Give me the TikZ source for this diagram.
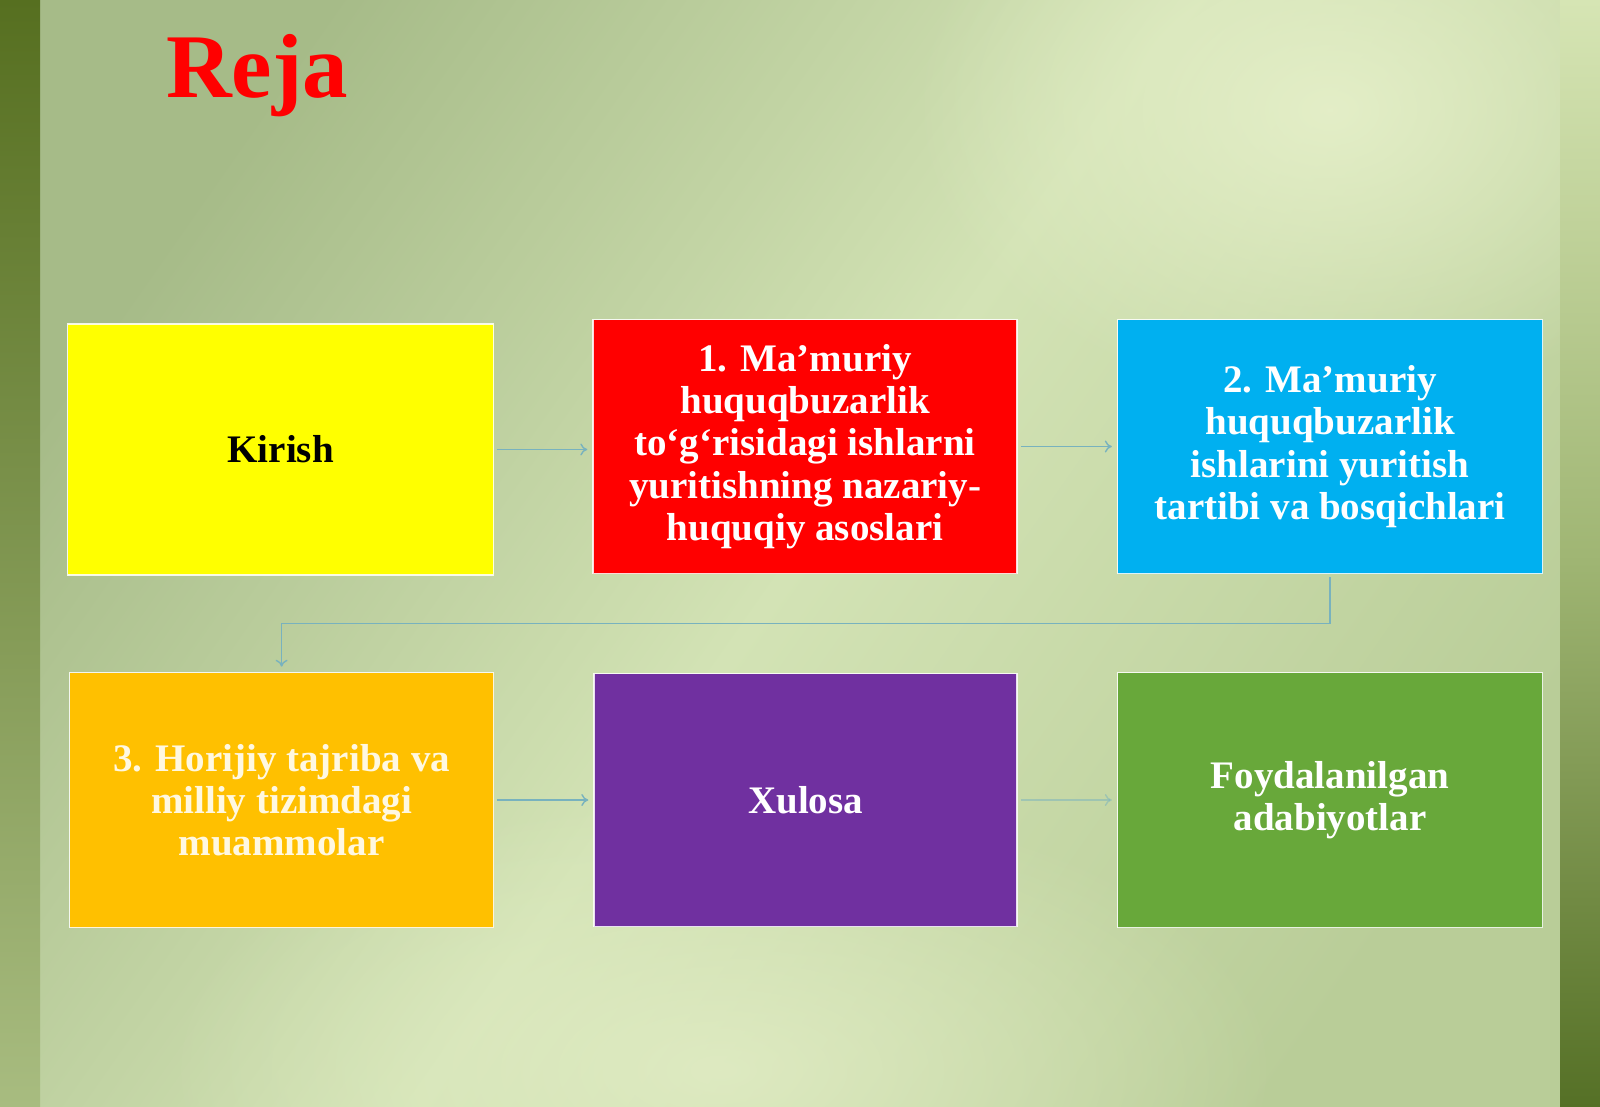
\documentclass[tikz,border=0pt]{standalone}
\usepackage{fontspec}
\setmainfont{Liberation Serif}
\usetikzlibrary{arrows.meta,fadings}
\definecolor{bgTL}{HTML}{A6BB88}
\definecolor{bgMid}{HTML}{D3E3B5}
\definecolor{bgBR}{HTML}{B9CD98}
\definecolor{bgHi}{HTML}{E6F0CA}
\definecolor{lsTop}{HTML}{566F20}
\definecolor{lsBot}{HTML}{A8BC80}
\definecolor{rsTop}{HTML}{D6E5B4}
\definecolor{rsMid}{HTML}{A0B674}
\definecolor{rsBot}{HTML}{557026}
\definecolor{cYellow}{HTML}{FFFF00}
\definecolor{cRed}{HTML}{FF0000}
\definecolor{cBlue}{HTML}{00B0F0}
\definecolor{cOrange}{HTML}{FFC000}
\definecolor{cPurple}{HTML}{7030A0}
\definecolor{cGreen}{HTML}{68A83A}
\definecolor{cCream}{HTML}{FFF8E1}
\definecolor{cLine}{RGB}{120,178,190}
\pgfdeclarehorizontalshading{bgband}{100bp}{color(0bp)=(bgTL); color(25bp)=(bgTL); color(50bp)=(bgMid); color(75bp)=(bgBR); color(100bp)=(bgBR)}
\tikzfading[name=softblob, inner color=transparent!0, outer color=transparent!100]
\tikzset{
  planbox/.style={draw=white, draw opacity=0.85, line width=1.6pt, minimum width=#1, minimum height=251pt, inner sep=0pt, align=center,
    font=\fontsize{39}{42.3}\selectfont\bfseries, text=white},
  planbox/.default=425pt,
  link/.style={draw=cLine, line width=1.4pt, -{To[length=7pt,width=12pt]}, shorten >=5pt, shorten <=3pt},
}
\begin{document}
\begin{tikzpicture}[x=1pt,y=-1pt]
\useasboundingbox (0,0) rectangle (1600,1107);
% background
\shade[shading=bgband, shading angle=-35] (0,0) rectangle (1600,1107);
\fill[bgHi, path fading=softblob, opacity=0.9] (1330,110) ellipse (420 and 300);
\fill[bgHi, path fading=softblob, opacity=0.7] (720,1070) ellipse (560 and 280);
% side strips
\shade[top color=lsTop, bottom color=lsBot] (0,0) rectangle (40,1107);
\shade[top color=rsTop, bottom color=rsBot, middle color=rsMid] (1560,0) rectangle (1600,1107);
% title
\node[anchor=base west, inner sep=0pt, text=cRed, font=\fontsize{91}{100}\selectfont\bfseries] (title) at (166,98) {Reja};
% boxes
\node[planbox=426pt, fill=cYellow, text=black] (b1) at (280.6,449.5) {Kirish};
\node[planbox=424pt, minimum height=254pt, fill=cRed] (b2) at (805.1,446.5) {1. Ma’muriy\\huquqbuzarlik\\to‘g‘risidagi ishlarni\\yuritishning nazariy-\\huquqiy asoslari};
\node[planbox=425pt, minimum height=254pt, fill=cBlue] (b3) at (1330.1,446.5) {2. Ma’muriy\\huquqbuzarlik\\ishlarini yuritish\\tartibi va bosqichlari};
\node[planbox=424pt, minimum height=255pt, fill=cOrange, text=cCream] (b4) at (281.6,800) {3. Horijiy tajriba va\\milliy tizimdagi\\muammolar};
\node[planbox=423pt, minimum height=253pt, fill=cPurple] (b5) at (805.6,800) {Xulosa};
\node[planbox=425pt, minimum height=255pt, fill=cGreen] (b6) at (1330.1,800) {Foydalanilgan\\adabiyotlar};
% connectors
\draw[link] (b1.east) -- (b2.west |- b1.east);
\draw[link] (b2.east) -- (b3.west);
\draw[link] (b3.south) -- ++(0,49) -| (b4.north);
\draw[link] (b4.east) -- (b5.west);
\draw[link, draw opacity=0.5] (b5.east) -- (b6.west);
\end{tikzpicture}
\end{document}
